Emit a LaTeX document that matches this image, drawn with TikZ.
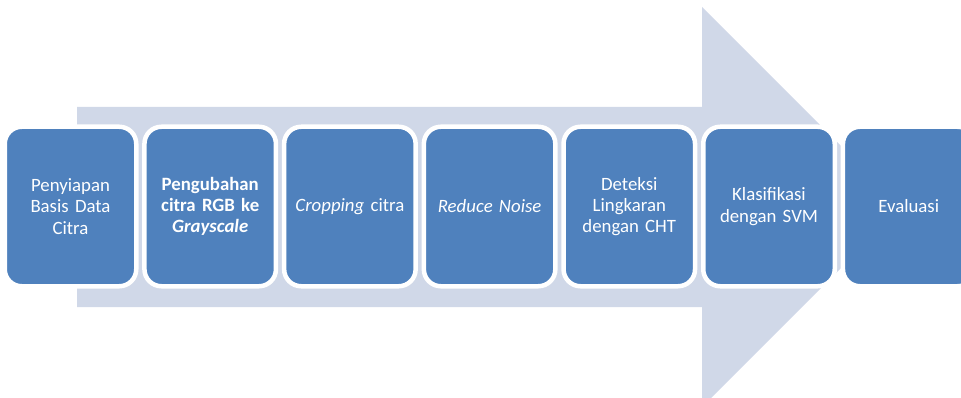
\documentclass[tikz,border=0pt]{standalone}
\usepackage{fontspec}
\setmainfont{Carlito}
\usepackage{tikz}
\usetikzlibrary{positioning}

\definecolor{boxblue}{HTML}{4F81BD}
\definecolor{arrowgray}{HTML}{D0D8E8}

\begin{document}
\begin{tikzpicture}[
  x=1pt, y=-1pt,
  node distance=8.2pt,
  stepbox/.style={draw=white,line width=4.5pt,fill=boxblue,rounded corners=17pt,
    minimum width=131.5pt,minimum height=159.5pt,text width=118pt,align=center,
    text=white,font=\fontsize{18.8}{21.2}\selectfont,inner sep=0pt,outer sep=0pt}
]
\useasboundingbox (0,0) rectangle (961,398);

% big background arrow
\fill[arrowgray] (77,107) -- (702,107) -- (702,7) -- (902,207) -- (702,407)
  -- (702,307) -- (77,307) -- cycle;

\node[stepbox] (basis) at (70.5,206.5) {Penyiapan\\Basis Data\\Citra};
\node[stepbox,right=of basis,font=\fontsize{18.8}{21.2}\selectfont\bfseries] (gray) {Pengubahan\\citra RGB ke\\\textit{Grayscale}};
\node[stepbox,right=of gray] (crop) {\textit{Cropping} citra};
\node[stepbox,right=of crop] (noise) {\textit{Reduce Noise}};
\node[stepbox,right=of noise] (cht) {Deteksi\\Lingkaran\\dengan CHT};
\node[stepbox,right=of cht] (svm) {Klasifikasi\\dengan SVM};
\node[stepbox,right=of svm] (eval) {Evaluasi};

\end{tikzpicture}
\end{document}
